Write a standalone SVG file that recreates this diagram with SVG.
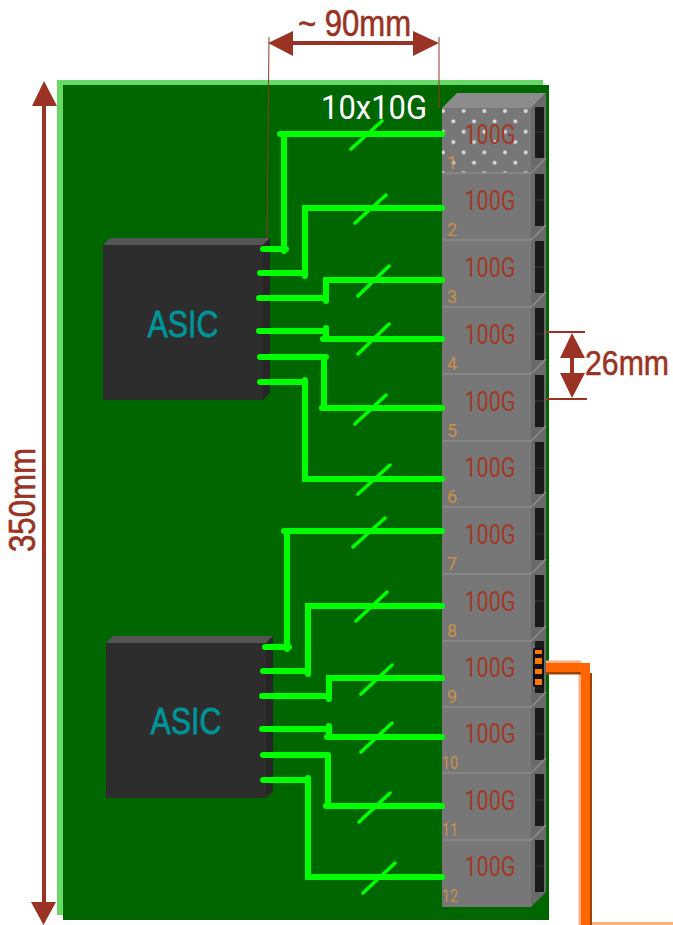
<svg xmlns="http://www.w3.org/2000/svg" width="673" height="925" viewBox="0 0 673 925">
<style>
text{font-family:"Liberation Sans",Arial,sans-serif}
.front{fill:#777;stroke:none}
.side{fill:#6a6a6a}
.edge{stroke:#8c8c8c;stroke-width:1.5;fill:none}
.port{fill:#1a1a1a}
.portline{stroke:#333;stroke-width:1}
.cap{font-family:Roboto,"Liberation Sans",sans-serif;font-size:27.500px;fill:#a03a28;text-anchor:middle}
.num{font-family:Roboto,"Liberation Sans",sans-serif;font-size:18px;fill:#c8924a}
.asic{font-size:37px;fill:#009499;text-anchor:middle;stroke:#009499;stroke-width:.8}
.chip{fill:#2d2d2d}
.chipside{fill:#262626}
.chiptop{fill:#555}
.g{stroke:#00ff00;stroke-width:6;fill:none;stroke-linecap:round}
.s{stroke:#00ff00;stroke-width:3.500;fill:none;stroke-linecap:round}
.dim{fill:#9a3324}
.thin{stroke:#8b3a28;stroke-width:1;fill:none}
.tick{stroke:#9a3324;stroke-width:2;fill:none}
.dimtext{font-size:36px;fill:#9a3324;stroke:#9a3324;stroke-width:.6}
</style>
<defs>
<pattern id="dots" patternUnits="userSpaceOnUse" x="443" y="111" width="20.67" height="20.7">
<rect width="20.67" height="20.7" fill="#777"/>
<circle cx="0" cy="0" r="2" fill="#ddd"/><circle cx="20.67" cy="0" r="2" fill="#ddd"/><circle cx="0" cy="20.7" r="2" fill="#ddd"/><circle cx="20.67" cy="20.7" r="2" fill="#ddd"/>
<circle cx="10.33" cy="10.35" r="2" fill="#ddd"/>
</pattern>
</defs>
<g id="board">
<rect x="57" y="80" width="486" height="835" fill="#66d966"/>
<rect x="63" y="85" width="486" height="835" fill="#006600"/>
</g>
<g id="orange-cable" fill="none">
<path d="M546 662H580V925" stroke="#ffb080" stroke-width="3" />
<path d="M546 673H581M590.500 673V925" stroke="#994400" stroke-width="3"/>
<path d="M546 667.500H585.500V925" stroke="#ff6600" stroke-width="9"/>
<rect x="592" y="922" width="81" height="3" fill="#ffb080" stroke="none"/>
</g>
<g id="dim-lines">
<path class="thin" d="M269 37L267 240M439 37V108"/>
<path class="tick" d="M532 332H585M531 399H587"/>
</g>
<g id="port-1"><polygon points="442,108 457,93 546,93 531,108" fill="#8c8c8c"/><polygon class="side" points="531,108 546,93 546,158 531,173"/><rect x="442" y="108" width="89" height="65" fill="url(#dots)"/><rect class="port" x="535" y="107" width="9" height="51"/><path class="portline" d="M535 132H544"/><text class="cap" x="490" y="144" textLength="51" lengthAdjust="spacingAndGlyphs">100G</text><text class="num" x="447" y="169">1</text></g>
<g id="port-2"><polygon class="side" points="531,173 546,158 546,225 531,240"/><rect class="front" x="442" y="173" width="89" height="67"/><path class="edge" d="M442 173H531L546 158"/><rect class="port" x="535" y="174" width="9" height="52"/><path class="portline" d="M535 200H544"/><text class="cap" x="490" y="210" textLength="51" lengthAdjust="spacingAndGlyphs">100G</text><text class="num" x="447" y="236">2</text></g>
<g id="port-3"><polygon class="side" points="531,240 546,225 546,292 531,307"/><rect class="front" x="442" y="240" width="89" height="67"/><path class="edge" d="M442 240H531L546 225"/><rect class="port" x="535" y="241" width="9" height="52"/><path class="portline" d="M535 267H544"/><text class="cap" x="490" y="277" textLength="51" lengthAdjust="spacingAndGlyphs">100G</text><text class="num" x="447" y="303">3</text></g>
<g id="port-4"><polygon class="side" points="531,307 546,292 546,359 531,374"/><rect class="front" x="442" y="307" width="89" height="67"/><path class="edge" d="M442 307H531L546 292"/><rect class="port" x="535" y="308" width="9" height="52"/><path class="portline" d="M535 334H544"/><text class="cap" x="490" y="344" textLength="51" lengthAdjust="spacingAndGlyphs">100G</text><text class="num" x="447" y="370">4</text></g>
<g id="port-5"><polygon class="side" points="531,374 546,359 546,426 531,441"/><rect class="front" x="442" y="374" width="89" height="67"/><path class="edge" d="M442 374H531L546 359"/><rect class="port" x="535" y="375" width="9" height="52"/><path class="portline" d="M535 401H544"/><text class="cap" x="490" y="411" textLength="51" lengthAdjust="spacingAndGlyphs">100G</text><text class="num" x="447" y="437">5</text></g>
<g id="port-6"><polygon class="side" points="531,441 546,426 546,492 531,507"/><rect class="front" x="442" y="441" width="89" height="66"/><path class="edge" d="M442 441H531L546 426"/><rect class="port" x="535" y="442" width="9" height="52"/><path class="portline" d="M535 468H544"/><text class="cap" x="490" y="477" textLength="51" lengthAdjust="spacingAndGlyphs">100G</text><text class="num" x="447" y="503">6</text></g>
<g id="port-7"><polygon class="side" points="531,507 546,492 546,559 531,574"/><rect class="front" x="442" y="507" width="89" height="67"/><path class="edge" d="M442 507H531L546 492"/><rect class="port" x="535" y="508" width="9" height="52"/><path class="portline" d="M535 534H544"/><text class="cap" x="490" y="544" textLength="51" lengthAdjust="spacingAndGlyphs">100G</text><text class="num" x="447" y="570">7</text></g>
<g id="port-8"><polygon class="side" points="531,574 546,559 546,626 531,641"/><rect class="front" x="442" y="574" width="89" height="67"/><path class="edge" d="M442 574H531L546 559"/><rect class="port" x="535" y="575" width="9" height="52"/><path class="portline" d="M535 601H544"/><text class="cap" x="490" y="611" textLength="51" lengthAdjust="spacingAndGlyphs">100G</text><text class="num" x="447" y="637">8</text></g>
<g id="port-9"><polygon class="side" points="531,641 546,626 546,692 531,707"/><rect class="front" x="442" y="641" width="89" height="66"/><path class="edge" d="M442 641H531L546 626"/><rect class="port" x="535" y="641" width="9" height="52"/><rect x="533" y="648" width="11" height="39" rx="2" fill="#111"/><rect x="535" y="650" width="7" height="4" fill="#ff7700"/><rect x="535" y="658" width="7" height="6" fill="#ff7700"/><rect x="535" y="669" width="7" height="5" fill="#ff7700"/><rect x="535" y="679" width="7" height="6" fill="#ff7700"/><text class="cap" x="490" y="677" textLength="51" lengthAdjust="spacingAndGlyphs">100G</text><text class="num" x="447" y="703">9</text></g>
<g id="port-10"><polygon class="side" points="531,707 546,692 546,758 531,773"/><rect class="front" x="442" y="707" width="89" height="66"/><path class="edge" d="M442 707H531L546 692"/><rect class="port" x="535" y="708" width="9" height="52"/><path class="portline" d="M535 734H544"/><text class="cap" x="490" y="743" textLength="51" lengthAdjust="spacingAndGlyphs">100G</text><text class="num" x="442" y="769" textLength="16" lengthAdjust="spacingAndGlyphs">10</text></g>
<g id="port-11"><polygon class="side" points="531,773 546,758 546,825 531,840"/><rect class="front" x="442" y="773" width="89" height="67"/><path class="edge" d="M442 773H531L546 758"/><rect class="port" x="535" y="774" width="9" height="52"/><path class="portline" d="M535 800H544"/><text class="cap" x="490" y="810" textLength="51" lengthAdjust="spacingAndGlyphs">100G</text><text class="num" x="442" y="836" textLength="16" lengthAdjust="spacingAndGlyphs">11</text></g>
<g id="port-12"><polygon class="side" points="531,840 546,825 546,892 531,907"/><rect class="front" x="442" y="840" width="89" height="67"/><path class="edge" d="M442 840H531L546 825"/><rect class="port" x="535" y="840" width="9" height="52"/><path class="portline" d="M535 866H544"/><text class="cap" x="490" y="876" textLength="51" lengthAdjust="spacingAndGlyphs">100G</text><text class="num" x="442" y="902" textLength="16" lengthAdjust="spacingAndGlyphs">12</text></g>
<g id="asic-1">
<polygon class="chiptop" points="103,245 110,238 270,238 263,245"/>
<polygon class="chipside" points="263,245 270,238 270,393 263,400"/>
<rect class="chip" x="103" y="245" width="160" height="155"/>
<text class="asic" x="183" y="337" textLength="71" lengthAdjust="spacingAndGlyphs">ASIC</text>
</g>
<g id="asic-2">
<polygon class="chiptop" points="106,643 113,636 273,636 266,643"/>
<polygon class="chipside" points="266,643 273,636 273,791 266,798"/>
<rect class="chip" x="106" y="643" width="160" height="155"/>
<text class="asic" x="186" y="734" textLength="71" lengthAdjust="spacingAndGlyphs">ASIC</text>
</g>
<g id="connectors">
<path class="g" d="M263 249H286M284 251V134M280 134H442"/>
<path class="g" d="M260 273H305M305 276V208H442"/>
<path class="g" d="M259 298H326M326 301V280H442"/>
<path class="g" d="M259 331H326M326 328V339M323 339H442"/>
<path class="g" d="M260 357H326M324 357V408M322 408H442"/>
<path class="g" d="M260 382H305M305 380V479H442"/>
<path class="g" d="M265 647H289M287 649V531M284 531H442"/>
<path class="g" d="M263 671H308M308 674V606H442"/>
<path class="g" d="M262 696H329M329 699V678H442"/>
<path class="g" d="M262 729H329M329 726V737M327 737H442"/>
<path class="g" d="M263 755H328M328 755V806M326 806H442"/>
<path class="g" d="M263 780H308M308 778V877H442"/>
<path class="s" d="M351 149L382 121M355 223L386 195M358 296L389 266M358 354L389 324M355 424L386 395M358 494L390 465M353 547L385 518M356 621L387 592M361 694L392 665M361 752L392 723M359 822L390 793M363 893L395 863"/>
</g>
<g id="dimensions">
<path class="dim" d="M268 43L293 31V41H413V31L439 43L413 56V45H293V56Z"/>
<path class="dim" d="M44 81L57 106H46V902H56L43.500 925L31 902H42V106H32Z"/>
<path class="dim" d="M572 333L585 358H574V373H585L572 398L560 373H570V358H560Z"/>
<text class="dimtext" x="354.500" y="36" text-anchor="middle" textLength="113" lengthAdjust="spacingAndGlyphs">~ 90mm</text>
<text class="dimtext" transform="translate(585 375) scale(.84 1)">26mm</text>
<text class="dimtext" transform="translate(35 500) rotate(-90)" text-anchor="middle" textLength="104" lengthAdjust="spacingAndGlyphs">350mm</text>
<text x="374" y="119" font-size="34" fill="#fff" text-anchor="middle" style="font-family:Roboto,'Liberation Sans',sans-serif" textLength="106" lengthAdjust="spacingAndGlyphs">10x10G</text>
</g>
</svg>
